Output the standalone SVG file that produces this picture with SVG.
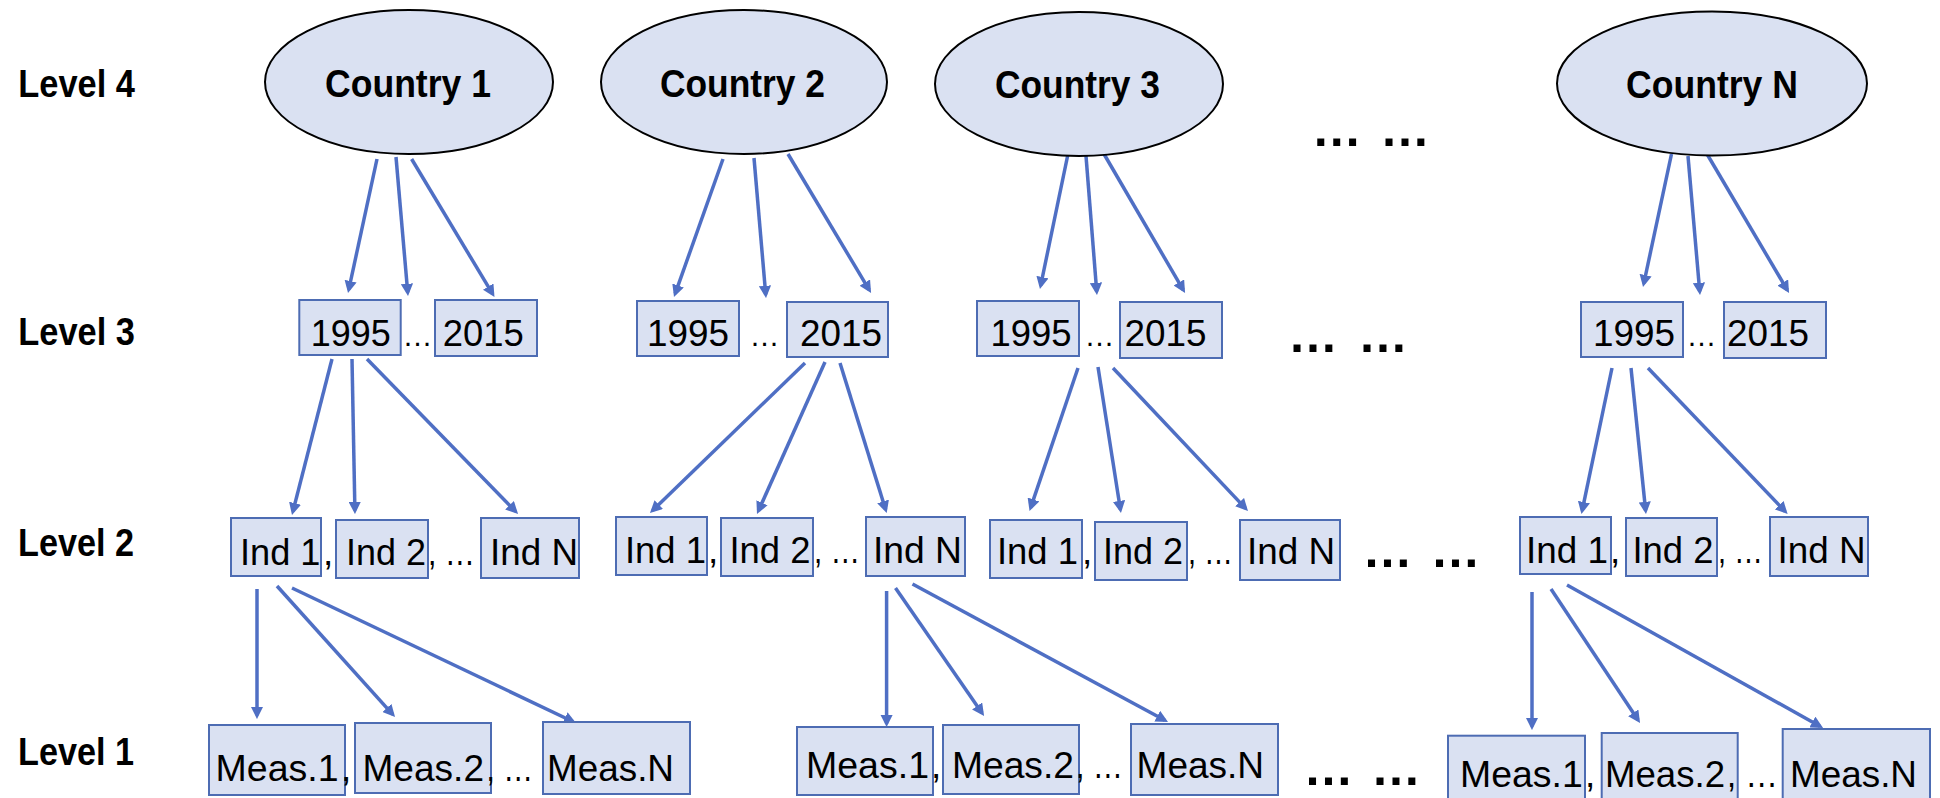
<svg xmlns="http://www.w3.org/2000/svg" width="1940" height="798" viewBox="0 0 1940 798">
<defs>
<style>
.lvl{font-family:"Liberation Sans",Arial,sans-serif;font-weight:bold;font-size:38px;fill:#000}
.cty{font-family:"Liberation Sans",Arial,sans-serif;font-weight:bold;font-size:38px;fill:#000;text-anchor:middle}
.t{font-family:"Liberation Sans",Arial,sans-serif;font-size:37px;fill:#000}
.el{font-family:"Liberation Sans",Arial,sans-serif;font-size:30px;fill:#000;text-anchor:middle}
.big{font-family:"Liberation Sans",Arial,sans-serif;font-weight:bold;font-size:50px;fill:#000;text-anchor:middle}
.ov{fill:#dae1f2;stroke:#000;stroke-width:2}
.bx{fill:#dae1f2;stroke:#4d6cb3;stroke-width:2}
.ar{stroke:#4f6fc4;stroke-width:3.5;fill:none;marker-end:url(#ah)}
</style>
<marker id="ah" viewBox="0 0 10 10" refX="7" refY="5" markerWidth="3.5" markerHeight="3.5" orient="auto" markerUnits="strokeWidth">
<path d="M0,0 L10,5 L0,10 z" fill="#4f6fc4"/>
</marker>
</defs>
<rect width="1940" height="798" fill="#fff"/>

<g id="level-labels">
<text class="lvl" x="18.3" y="96.7" textLength="116.7" lengthAdjust="spacingAndGlyphs">Level 4</text>
<text class="lvl" x="18.3" y="345" textLength="116.7" lengthAdjust="spacingAndGlyphs">Level 3</text>
<text class="lvl" x="18" y="556" textLength="116" lengthAdjust="spacingAndGlyphs">Level 2</text>
<text class="lvl" x="18" y="765" textLength="116" lengthAdjust="spacingAndGlyphs">Level 1</text>
</g>

<g id="connectors">
<line class="ar" x1="377" y1="159" x2="348.8" y2="289.5"/>
<line class="ar" x1="396" y1="157" x2="407.7" y2="292.4"/>
<line class="ar" x1="411.6" y1="159" x2="492.6" y2="293.9"/>
<line class="ar" x1="723" y1="159" x2="675.2" y2="293.6"/>
<line class="ar" x1="754" y1="158" x2="765.7" y2="294.4"/>
<line class="ar" x1="788" y1="154" x2="869.2" y2="289.9"/>
<line class="ar" x1="1068" y1="154" x2="1040.7" y2="285.5"/>
<line class="ar" x1="1086" y1="156" x2="1096.7" y2="291.4"/>
<line class="ar" x1="1104" y1="154" x2="1183.2" y2="289.9"/>
<line class="ar" x1="1671.5" y1="154" x2="1643.8" y2="283.5"/>
<line class="ar" x1="1688" y1="156" x2="1699.7" y2="291.4"/>
<line class="ar" x1="1707" y1="154" x2="1787.2" y2="289.9"/>

<line class="ar" x1="332" y1="359" x2="292.9" y2="511.5"/>
<line class="ar" x1="352" y1="359" x2="354.9" y2="510.4"/>
<line class="ar" x1="367" y1="359" x2="515.5" y2="511.4"/>
<line class="ar" x1="805" y1="363" x2="652.6" y2="510.5"/>
<line class="ar" x1="825" y1="362" x2="758.5" y2="510.7"/>
<line class="ar" x1="840" y1="363" x2="885.6" y2="509.6"/>
<line class="ar" x1="1078" y1="368" x2="1030.7" y2="507.6"/>
<line class="ar" x1="1098" y1="367" x2="1120.4" y2="509.4"/>
<line class="ar" x1="1113" y1="368" x2="1245.5" y2="508.4"/>
<line class="ar" x1="1612" y1="368" x2="1582.2" y2="510.5"/>
<line class="ar" x1="1631" y1="368" x2="1645.6" y2="510.4"/>
<line class="ar" x1="1648" y1="368" x2="1785.1" y2="511.4"/>

<line class="ar" x1="257" y1="589" x2="257" y2="715.4"/>
<line class="ar" x1="277" y1="586" x2="392.6" y2="714.3"/>
<line class="ar" x1="292" y1="588" x2="572.7" y2="721.5"/>
<line class="ar" x1="886.6" y1="591" x2="886.6" y2="723.4"/>
<line class="ar" x1="895.5" y1="588" x2="982" y2="713"/>
<line class="ar" x1="912.5" y1="584" x2="1164.8" y2="720.3"/>
<line class="ar" x1="1532" y1="592" x2="1532" y2="726.4"/>
<line class="ar" x1="1551" y1="589" x2="1638" y2="720"/>
<line class="ar" x1="1567" y1="585" x2="1819.9" y2="726.2"/>
</g>

<g id="country1">
<ellipse class="ov" cx="409" cy="82" rx="144" ry="72"/>
<text class="cty" x="408" y="97" textLength="166" lengthAdjust="spacingAndGlyphs">Country 1</text>
</g>
<g id="country2">
<ellipse class="ov" cx="744" cy="82" rx="143" ry="72"/>
<text class="cty" x="742.5" y="97" textLength="165" lengthAdjust="spacingAndGlyphs">Country 2</text>
</g>
<g id="country3">
<ellipse class="ov" cx="1079" cy="84" rx="144" ry="72"/>
<text class="cty" x="1077.5" y="98" textLength="165" lengthAdjust="spacingAndGlyphs">Country 3</text>
</g>
<g id="countryN">
<ellipse class="ov" cx="1712" cy="83.5" rx="155" ry="72"/>
<text class="cty" x="1712" y="98" textLength="172" lengthAdjust="spacingAndGlyphs">Country N</text>
</g>

<g id="more-countries">
<text class="big" x="1336.7" y="146">…</text>
<text class="big" x="1405" y="146">…</text>
</g>
<g id="more-years">
<text class="big" x="1313" y="352">…</text>
<text class="big" x="1383" y="352">…</text>
</g>
<g id="more-inds">
<text class="big" x="1387.5" y="566.5">…</text>
<text class="big" x="1455.5" y="566.5">…</text>
</g>
<g id="more-meas">
<text class="big" x="1328.6" y="785">…</text>
<text class="big" x="1396" y="785">…</text>
</g>

<g id="c1-years">
<rect class="bx" x="299.3" y="300" width="101.4" height="55"/>
<rect class="bx" x="435" y="300" width="102" height="56"/>
<text class="t" x="310.7" y="346" textLength="80" lengthAdjust="spacingAndGlyphs">1995</text>
<text class="el" x="417.5" y="346">…</text>
<text class="t" x="442.7" y="346" textLength="81" lengthAdjust="spacingAndGlyphs">2015</text>
</g>
<g id="c2-years">
<rect class="bx" x="637" y="301" width="102" height="55"/>
<rect class="bx" x="787" y="302" width="101" height="55"/>
<text class="t" x="647" y="346" textLength="82" lengthAdjust="spacingAndGlyphs">1995</text>
<text class="el" x="764.5" y="346">…</text>
<text class="t" x="800" y="346" textLength="82" lengthAdjust="spacingAndGlyphs">2015</text>
</g>
<g id="c3-years">
<rect class="bx" x="977" y="301" width="102" height="55"/>
<rect class="bx" x="1120" y="302" width="102" height="56"/>
<text class="t" x="990.6" y="346" textLength="81" lengthAdjust="spacingAndGlyphs">1995</text>
<text class="el" x="1099.5" y="346">…</text>
<text class="t" x="1124.5" y="346" textLength="82" lengthAdjust="spacingAndGlyphs">2015</text>
</g>
<g id="cN-years">
<rect class="bx" x="1581" y="302" width="102" height="55"/>
<rect class="bx" x="1724" y="302" width="102" height="56"/>
<text class="t" x="1593" y="346" textLength="82" lengthAdjust="spacingAndGlyphs">1995</text>
<text class="el" x="1701.5" y="346">…</text>
<text class="t" x="1727" y="346" textLength="82" lengthAdjust="spacingAndGlyphs">2015</text>
</g>

<g id="c1-inds">
<rect class="bx" x="231" y="518" width="90" height="58"/>
<rect class="bx" x="336" y="520" width="92" height="58"/>
<rect class="bx" x="481" y="518" width="98" height="60"/>
<text class="t" x="240" y="565" textLength="80.5" lengthAdjust="spacingAndGlyphs">Ind 1</text>
<text class="t" x="323" y="565">,</text>
<text class="t" x="346" y="565" textLength="80" lengthAdjust="spacingAndGlyphs">Ind 2</text>
<text class="t" x="428" y="565" textLength="47" lengthAdjust="spacingAndGlyphs">, …</text>
<text class="t" x="490" y="565" textLength="88" lengthAdjust="spacingAndGlyphs">Ind N</text>
</g>
<g id="c2-inds">
<rect class="bx" x="616" y="517" width="91" height="58"/>
<rect class="bx" x="721" y="518" width="92" height="58"/>
<rect class="bx" x="866" y="517" width="99" height="59"/>
<text class="t" x="625" y="563" textLength="81" lengthAdjust="spacingAndGlyphs">Ind 1</text>
<text class="t" x="708" y="563">,</text>
<text class="t" x="729.5" y="563" textLength="81" lengthAdjust="spacingAndGlyphs">Ind 2</text>
<text class="t" x="814" y="563" textLength="46" lengthAdjust="spacingAndGlyphs">, …</text>
<text class="t" x="873" y="563" textLength="89" lengthAdjust="spacingAndGlyphs">Ind N</text>
</g>
<g id="c3-inds">
<rect class="bx" x="990" y="520" width="92" height="58"/>
<rect class="bx" x="1095" y="522" width="92" height="58"/>
<rect class="bx" x="1240" y="520" width="100" height="60"/>
<text class="t" x="997" y="564" textLength="81" lengthAdjust="spacingAndGlyphs">Ind 1</text>
<text class="t" x="1082" y="564">,</text>
<text class="t" x="1103" y="564" textLength="80" lengthAdjust="spacingAndGlyphs">Ind 2</text>
<text class="t" x="1188" y="564" textLength="45" lengthAdjust="spacingAndGlyphs">, …</text>
<text class="t" x="1247" y="564" textLength="88" lengthAdjust="spacingAndGlyphs">Ind N</text>
</g>
<g id="cN-inds">
<rect class="bx" x="1520" y="517" width="91" height="57"/>
<rect class="bx" x="1626" y="518" width="91" height="58"/>
<rect class="bx" x="1770" y="517" width="98" height="59"/>
<text class="t" x="1526" y="563" textLength="82" lengthAdjust="spacingAndGlyphs">Ind 1</text>
<text class="t" x="1610" y="563">,</text>
<text class="t" x="1632.5" y="563" textLength="81" lengthAdjust="spacingAndGlyphs">Ind 2</text>
<text class="t" x="1718" y="563" textLength="45" lengthAdjust="spacingAndGlyphs">, …</text>
<text class="t" x="1777.5" y="563" textLength="88" lengthAdjust="spacingAndGlyphs">Ind N</text>
</g>

<g id="c1-meas">
<rect class="bx" x="209" y="725" width="136" height="70"/>
<rect class="bx" x="355" y="723" width="136" height="70"/>
<rect class="bx" x="543" y="722" width="147" height="72"/>
<text class="t" x="215.6" y="781" textLength="123" lengthAdjust="spacingAndGlyphs">Meas.1</text>
<text class="t" x="341" y="781">,</text>
<text class="t" x="362.5" y="781" textLength="121.5" lengthAdjust="spacingAndGlyphs">Meas.2</text>
<text class="t" x="486.6" y="781" textLength="46.5" lengthAdjust="spacingAndGlyphs">, …</text>
<text class="t" x="547" y="781" textLength="127" lengthAdjust="spacingAndGlyphs">Meas.N</text>
</g>
<g id="c2-meas">
<rect class="bx" x="797" y="727" width="136" height="68"/>
<rect class="bx" x="943" y="725" width="136" height="69"/>
<rect class="bx" x="1131" y="724" width="147" height="71"/>
<text class="t" x="806" y="778" textLength="123" lengthAdjust="spacingAndGlyphs">Meas.1</text>
<text class="t" x="931" y="778">,</text>
<text class="t" x="952" y="778" textLength="122" lengthAdjust="spacingAndGlyphs">Meas.2</text>
<text class="t" x="1076" y="778" textLength="47" lengthAdjust="spacingAndGlyphs">, …</text>
<text class="t" x="1136.6" y="778" textLength="127.5" lengthAdjust="spacingAndGlyphs">Meas.N</text>
</g>
<g id="cN-meas">
<rect class="bx" x="1448" y="735.7" width="137" height="70"/>
<rect class="bx" x="1601.7" y="733" width="136" height="70"/>
<rect class="bx" x="1782.7" y="729" width="147.3" height="75"/>
<text class="t" x="1460" y="787" textLength="122.7" lengthAdjust="spacingAndGlyphs">Meas.1</text>
<text class="t" x="1585" y="787">,</text>
<text class="t" x="1605" y="787" textLength="120" lengthAdjust="spacingAndGlyphs">Meas.2</text>
<text class="t" x="1727" y="787" textLength="51" lengthAdjust="spacingAndGlyphs">, …</text>
<text class="t" x="1790" y="787" textLength="127" lengthAdjust="spacingAndGlyphs">Meas.N</text>
</g>
</svg>
